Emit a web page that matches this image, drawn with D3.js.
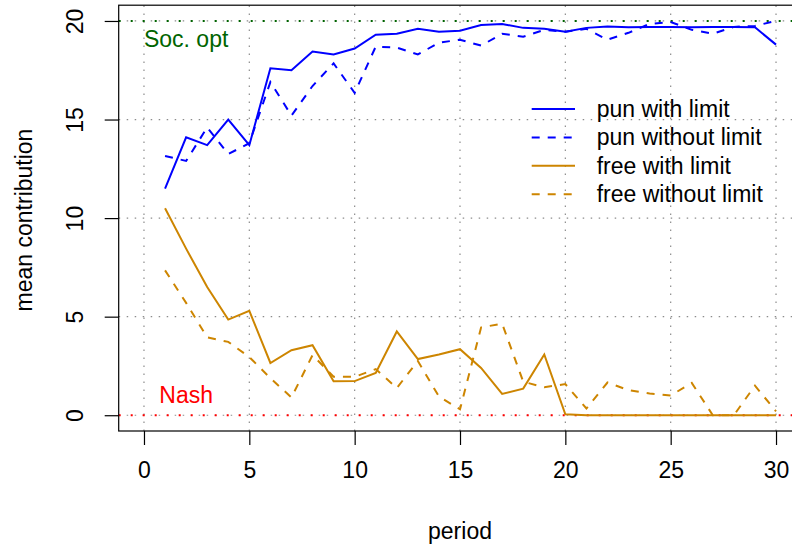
<!DOCTYPE html>
<html lang="en">
<head>
  <meta charset="UTF-8">
  <title>Mean contribution by period</title>
  <script src="https://d3js.org/d3.v7.min.js"></script>
  <style>
    body { margin: 0; background: #fff; }
    text { font-family: "Liberation Sans", Arial, sans-serif; }
  </style>
</head>
<body>
<div class="main"></div>
<script>
  // data
  var periods = d3.range(1, 31);
  var punLimit = [11.5, 14.1, 13.7, 15.0, 13.7, 17.6, 17.5, 18.45, 18.3, 18.6,
                  19.3, 19.35, 19.6, 19.45, 19.5, 19.8, 19.85, 19.65, 19.6, 19.45,
                  19.65, 19.72, 19.68, 19.7, 19.7, 19.68, 19.7, 19.7, 19.68, 18.8];
  var punNoLimit = [13.15, 12.9, 14.6, 13.25, 13.8, 16.9, 15.2, 16.7, 17.85, 16.35,
                    18.7, 18.65, 18.3, 18.9, 19.05, 18.75, 19.35, 19.2, 19.55, 19.45,
                    19.6, 19.05, 19.4, 19.85, 19.95, 19.55, 19.35, 19.7, 19.75, 20.0];
  var freeLimit = [10.5, 8.45, 6.5, 4.85, 5.3, 2.65, 3.3, 3.55, 1.72, 1.73,
                   2.15, 4.25, 2.85, 3.08, 3.35, 2.4, 1.08, 1.35, 3.08, 0.05,
                   0, 0, 0, 0, 0, 0, 0, 0, 0, 0];
  var freeNoLimit = [7.35, 5.7, 3.95, 3.72, 2.95, 1.88, 0.9, 3.05, 1.95, 1.95,
                     2.34, 1.38, 2.75, 0.95, 0.3, 4.45, 4.65, 1.7, 1.42, 1.58,
                     0.34, 1.66, 1.27, 1.1, 1.0, 1.64, 0, 0, 1.5, 0.2];
  var seriesNames = ["pun with limit", "pun without limit", "free with limit", "free without limit"];
  var xTicks = [0, 5, 10, 15, 20, 25, 30];
  var yTicks = [0, 5, 10, 15, 20];
  var socOpt = 20, nash = 0;

  var width = 792, height = 550;
  var blue = "#0000ff", orange = "#cd8500";
  var series = [
    {name: seriesNames[0], values: punLimit, color: blue, dash: null},
    {name: seriesNames[1], values: punNoLimit, color: blue, dash: "8,8"},
    {name: seriesNames[2], values: freeLimit, color: orange, dash: null},
    {name: seriesNames[3], values: freeNoLimit, color: orange, dash: "8,8"}
  ];

  var svg = d3.select(".main").append("svg")
    .attr("width", width).attr("height", height);

  // R style: 4% extension of the axis range
  var xScale = d3.scaleLinear().domain([-1.2, 31.2]).range([118.7, 801.3]);
  var yScale = d3.scaleLinear().domain([-0.8, 20.8]).range([431, 5.2]);

  // grid
  var grid = svg.append("g").attr("stroke", "#8c8c8c").attr("stroke-width", 1.2)
    .attr("stroke-dasharray", "1.5,6.5");
  grid.selectAll(".vg").data(xTicks).join("line").attr("class", "vg")
    .attr("x1", d => xScale(d)).attr("x2", d => xScale(d))
    .attr("y1", yScale.range()[0]).attr("y2", yScale.range()[1]);
  grid.selectAll(".hg").data(yTicks).join("line").attr("class", "hg")
    .attr("y1", d => yScale(d)).attr("y2", d => yScale(d))
    .attr("x1", xScale.range()[0]).attr("x2", xScale.range()[1]);

  // reference lines
  function refLine(v, color) {
    svg.append("line")
      .attr("x1", xScale.range()[0]).attr("x2", xScale.range()[1])
      .attr("y1", yScale(v)).attr("y2", yScale(v))
      .attr("stroke", color).attr("stroke-width", 2)
      .attr("stroke-dasharray", "2,10");
  }
  refLine(socOpt, "#006400");
  refLine(nash, "#ff0000");

  svg.append("text").attr("x", xScale(2)).attr("y", yScale(socOpt) + 26)
    .attr("text-anchor", "middle").attr("fill", "#006400")
    .style("font-size", "23px").text("Soc. opt");
  svg.append("text").attr("x", xScale(2)).attr("y", yScale(nash) - 12)
    .attr("text-anchor", "middle").attr("fill", "#ff0000")
    .style("font-size", "23px").text("Nash");

  // lines
  var line = d3.line().x((d, i) => xScale(periods[i])).y(d => yScale(d));
  svg.append("g").selectAll("path").data(series).join("path")
    .attr("d", d => line(d.values))
    .attr("fill", "none")
    .attr("stroke", d => d.color)
    .attr("stroke-width", 2)
    .attr("stroke-dasharray", d => d.dash);

  // box
  svg.append("rect")
    .attr("x", xScale.range()[0]).attr("y", yScale.range()[1])
    .attr("width", xScale.range()[1] - xScale.range()[0])
    .attr("height", yScale.range()[0] - yScale.range()[1])
    .attr("fill", "none").attr("stroke", "#000").attr("stroke-width", 1.2);

  // axes
  var xAxis = d3.axisBottom(xScale).tickValues(xTicks).tickSize(14).tickPadding(16.5);
  var gx = svg.append("g").attr("transform", "translate(0," + yScale.range()[0] + ")").call(xAxis);
  gx.select(".domain").remove();
  gx.selectAll("text").style("font-size", "23px").attr("fill", "#000");
  gx.selectAll("line").attr("stroke-width", 1.2);

  var yAxis = d3.axisLeft(yScale).tickValues(yTicks).tickSize(14);
  var gy = svg.append("g").attr("transform", "translate(" + xScale.range()[0] + ",0)").call(yAxis);
  gy.select(".domain").remove();
  gy.selectAll("line").attr("stroke-width", 1.2);
  gy.selectAll("text")
    .attr("transform", "rotate(-90)")
    .attr("x", 0).attr("y", -36).attr("dy", 0)
    .attr("text-anchor", "middle")
    .style("font-size", "23px").attr("fill", "#000");

  // axis titles
  svg.append("text").attr("x", (xScale.range()[0] + xScale.range()[1]) / 2).attr("y", 539)
    .attr("text-anchor", "middle").style("font-size", "23px").text("period");
  svg.append("text").attr("transform", "translate(32,220) rotate(-90)")
    .attr("text-anchor", "middle").style("font-size", "23px").text("mean contribution");

  // legend
  var legend = svg.append("g").selectAll("g").data(series).join("g")
    .attr("transform", (d, i) => "translate(531.7," + (109 + i * 28.4) + ")");
  legend.append("line").attr("x1", 0).attr("x2", 43.3)
    .attr("stroke", d => d.color).attr("stroke-width", 2)
    .attr("stroke-dasharray", d => d.dash);
  legend.append("text").attr("x", 65).attr("y", 8)
    .style("font-size", "23px").attr("fill", "#000").text(d => d.name);
</script>
</body>
</html>
